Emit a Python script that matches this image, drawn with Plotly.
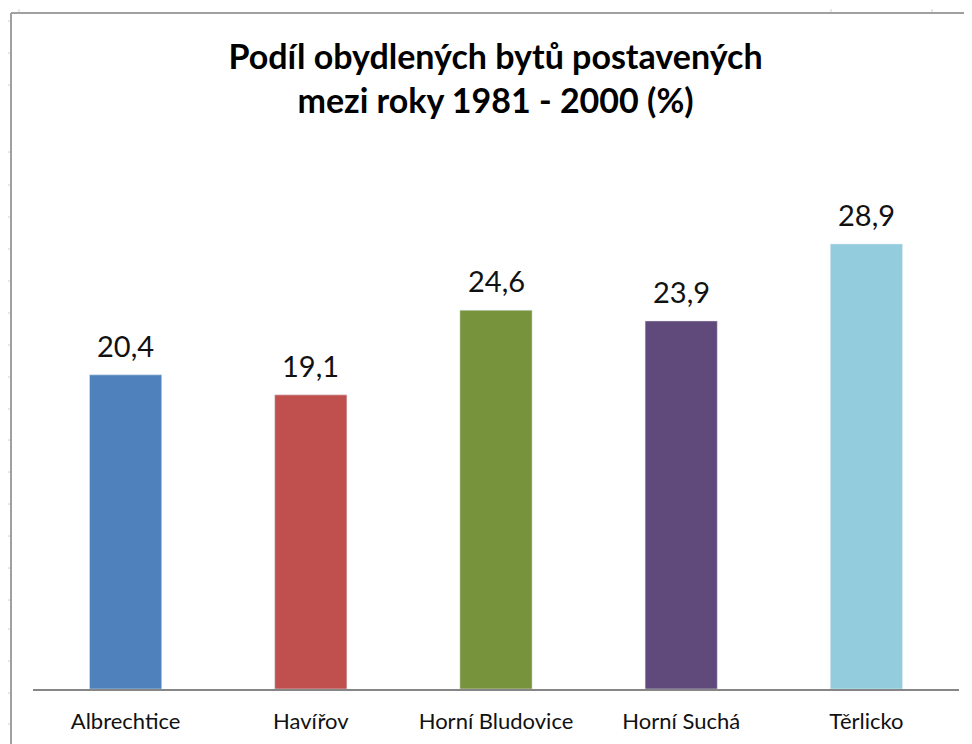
import plotly.graph_objects as go

categories = ["Albrechtice", "Havířov", "Horní Bludovice", "Horní Suchá", "Těrlicko"]
values = [20.4, 19.1, 24.6, 23.9, 28.9]
labels = ["20,4", "19,1", "24,6", "23,9", "28,9"]
colors = ["#4F81BD", "#C0504D", "#77933C", "#604A7B", "#93CDDD"]

W, H = 972, 744
ML, MR, MT, MB = 25, 21, 142, 63
PW, PH = W - ML - MR, H - MT - MB

fig = go.Figure(go.Bar(
    x=categories, y=values, marker_color=colors, width=0.39,
    hoverinfo="x+y",
))

for c, v, t in zip(categories, values, labels):
    fig.add_annotation(x=c, y=v, text=t, showarrow=False, yanchor="bottom",
                       yshift=10, font=dict(family="Lato", size=29, color="#111111"))

fig.update_layout(
    width=W, height=H,
    margin=dict(l=ML, r=MR, t=MT, b=MB),
    paper_bgcolor="white", plot_bgcolor="white",
    showlegend=False,
    title=dict(
        text="<b>Podíl obydlených bytů postavených<br>mezi roky 1981 - 2000 (%)</b>",
        x=487.5 / W, xanchor="center", y=1 - 61 / H, yanchor="middle", yref="container",
        font=dict(family="Lato", size=34, color="#000000"),
    ),
    xaxis=dict(
        showline=True, linecolor="#868686", linewidth=2, ticks="",
        tickfont=dict(family="Lato", size=22, color="#111111"),
        ticklabelstandoff=12,
        showgrid=False,
    ),
    yaxis=dict(range=[0, 35], visible=False, showgrid=False),
)

def px(xf):
    return (xf - ML) / PW

def py(yf):
    return (H - MB - yf) / PH

# chart area border (top and left) and spreadsheet tick marks
fig.add_shape(type="line", xref="paper", yref="paper", x0=px(3), x1=px(980), y0=py(5), y1=py(5),
              line=dict(color="#A0A0A0", width=2))
fig.add_shape(type="line", xref="paper", yref="paper", x0=px(3), x1=px(3), y0=py(750), y1=py(5),
              line=dict(color="#A0A0A0", width=2))
for yy in [21, 53, 85, 152, 185, 217, 249, 281, 313, 345, 377, 409, 440, 472, 504, 536, 568, 600, 629, 661, 693, 724]:
    fig.add_shape(type="line", xref="paper", yref="paper", x0=px(0), x1=px(2), y0=py(yy - 8), y1=py(yy - 8),
                  line=dict(color="#D0D0D0", width=1))
for xx in [19, 831, 932]:
    fig.add_shape(type="line", xref="paper", yref="paper", x0=px(xx - 8), x1=px(xx - 8), y0=py(1), y1=py(4),
                  line=dict(color="#D0D0D0", width=1))

fig.write_html("out.html")
